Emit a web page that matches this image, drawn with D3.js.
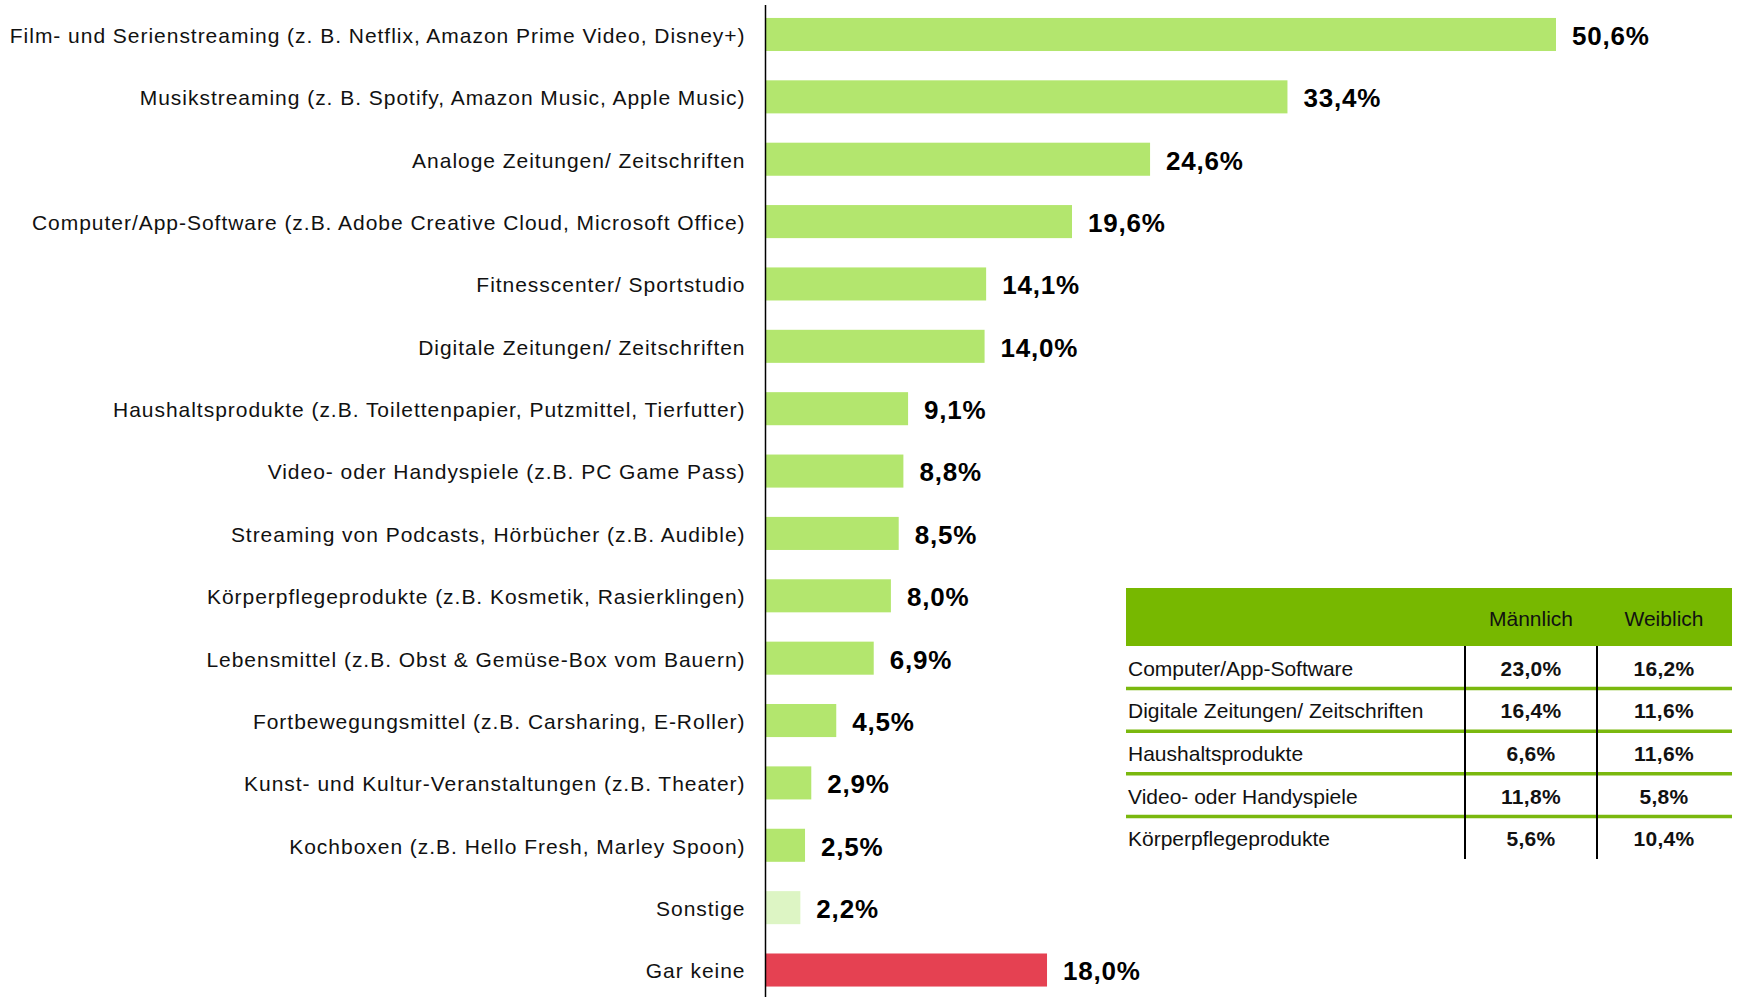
<!DOCTYPE html>
<html>
<head>
<meta charset="utf-8">
<script src="https://cdn.jsdelivr.net/npm/d3@7"></script>
<style>
  body { margin: 0; background: #fff; }
  svg { display: block; font-family: "Liberation Sans", Arial, sans-serif; }
</style>
</head>
<body>
<script>
// bar chart data
var categories = [
  "Film- und Serienstreaming (z. B. Netflix, Amazon Prime Video, Disney+)",
  "Musikstreaming (z. B. Spotify, Amazon Music, Apple Music)",
  "Analoge Zeitungen/ Zeitschriften",
  "Computer/App-Software (z.B. Adobe Creative Cloud, Microsoft Office)",
  "Fitnesscenter/ Sportstudio",
  "Digitale Zeitungen/ Zeitschriften",
  "Haushaltsprodukte (z.B. Toilettenpapier, Putzmittel, Tierfutter)",
  "Video- oder Handyspiele (z.B. PC Game Pass)",
  "Streaming von Podcasts, Hörbücher (z.B. Audible)",
  "Körperpflegeprodukte (z.B. Kosmetik, Rasierklingen)",
  "Lebensmittel (z.B. Obst & Gemüse-Box vom Bauern)",
  "Fortbewegungsmittel (z.B. Carsharing, E-Roller)",
  "Kunst- und Kultur-Veranstaltungen (z.B. Theater)",
  "Kochboxen (z.B. Hello Fresh, Marley Spoon)",
  "Sonstige",
  "Gar keine"
];
var values = [50.6, 33.4, 24.6, 19.6, 14.1, 14.0, 9.1, 8.8, 8.5, 8.0, 6.9, 4.5, 2.9, 2.5, 2.2, 18.0];

// table data
var tableRows = ["Computer/App-Software", "Digitale Zeitungen/ Zeitschriften", "Haushaltsprodukte", "Video- oder Handyspiele", "Körperpflegeprodukte"];
var tableCols = ["Männlich", "Weiblich"];
var maleVals = [23.0, 16.4, 6.6, 11.8, 5.6];
var femaleVals = [16.2, 11.6, 11.6, 5.8, 10.4];

var w = 1740, h = 997;
var fmt = function(v){ return v.toFixed(1).replace(".", ",") + "%"; };

var svg = d3.select("body").append("svg").attr("width", w).attr("height", h);

var x = d3.scaleLinear().domain([0, 50.6]).range([766, 1556]);
var y = d3.scaleBand().domain(categories).range([3.3, 1001.2]).paddingInner(0.47).paddingOuter(0.235);

var barColor = function(d, i){
  if (d === "Gar keine") return "#e54152";
  if (d === "Sonstige") return "#ddf5c4";
  return "#b3e66e";
};

// bars
svg.selectAll("rect.bar")
  .data(categories)
  .enter()
  .append("rect")
  .attr("class", "bar")
  .attr("x", x(0))
  .attr("y", function(d){ return y(d); })
  .attr("width", function(d, i){ return x(values[i]) - x(0); })
  .attr("height", y.bandwidth())
  .attr("fill", barColor);

// value labels
svg.selectAll("text.val")
  .data(categories)
  .enter()
  .append("text")
  .attr("class", "val")
  .attr("x", function(d, i){ return x(values[i]) + 16; })
  .attr("y", function(d){ return y(d) + y.bandwidth() / 2; })
  .attr("dy", "0.4em")
  .attr("font-size", 26)
  .attr("font-weight", "bold")
  .attr("letter-spacing", 0.8)
  .attr("fill", "#000")
  .text(function(d, i){ return fmt(values[i]); });

// category axis
var axis = svg.append("g")
  .attr("transform", "translate(" + (x(0) - 0.5) + ",0)")
  .call(d3.axisLeft(y).tickSize(0).tickSizeOuter(0).tickPadding(20));
axis.select(".domain").remove();
axis.selectAll("text")
  .attr("font-family", "Liberation Sans, Arial, sans-serif")
  .attr("font-size", 21)
  .attr("letter-spacing", 0.97)
  .attr("dy", "0.4em")
  .attr("fill", "#111");
svg.append("line")
  .attr("x1", x(0) - 0.5).attr("x2", x(0) - 0.5)
  .attr("y1", 5).attr("y2", h)
  .attr("stroke", "#000").attr("stroke-width", 1.5);

// table
var tX0 = 1126, tX1 = 1732, hdrTop = 588, hdrBot = 646;
var colDiv = [1465, 1597];
var colX = d3.scalePoint().domain(tableCols).range([1531, 1664]);
var rowY = d3.scaleBand().domain(tableRows).range([hdrBot, hdrBot + 42.6 * tableRows.length]);
var green = "#77b800";

var tbl = svg.append("g");
tbl.append("rect")
  .attr("x", tX0).attr("y", hdrTop)
  .attr("width", tX1 - tX0).attr("height", hdrBot - hdrTop)
  .attr("fill", green);
tbl.selectAll("text.hdr")
  .data(tableCols)
  .enter()
  .append("text")
  .attr("class", "hdr")
  .attr("x", function(d){ return colX(d); })
  .attr("y", 626)
  .attr("text-anchor", "middle")
  .attr("font-size", 21)
  .attr("fill", "#111")
  .text(function(d){ return d; });

// separators
tbl.selectAll("line.sep")
  .data(tableRows.slice(0, -1))
  .enter()
  .append("line")
  .attr("class", "sep")
  .attr("x1", tX0).attr("x2", tX1)
  .attr("y1", function(d){ return rowY(d) + rowY.bandwidth(); })
  .attr("y2", function(d){ return rowY(d) + rowY.bandwidth(); })
  .attr("stroke", "#7ab80e").attr("stroke-width", 3.5);

// column dividers
tbl.selectAll("line.div")
  .data(colDiv)
  .enter()
  .append("line")
  .attr("class", "div")
  .attr("x1", function(d){ return d; }).attr("x2", function(d){ return d; })
  .attr("y1", hdrBot).attr("y2", rowY.range()[1])
  .attr("stroke", "#000").attr("stroke-width", 2);

tbl.selectAll("text.rowlab")
  .data(tableRows)
  .enter()
  .append("text")
  .attr("class", "rowlab")
  .attr("x", 1128)
  .attr("y", function(d){ return rowY(d) + rowY.bandwidth() / 2; })
  .attr("dy", "0.4em")
  .attr("font-size", 21)
  .attr("fill", "#111")
  .text(function(d){ return d; });

[maleVals, femaleVals].forEach(function(arr, c){
  tbl.selectAll("text.v" + c)
    .data(tableRows)
    .enter()
    .append("text")
    .attr("class", "v" + c)
    .attr("x", colX(tableCols[c]))
    .attr("y", function(d){ return rowY(d) + rowY.bandwidth() / 2; })
    .attr("dy", "0.4em")
    .attr("text-anchor", "middle")
    .attr("font-size", 21)
    .attr("font-weight", "bold")
    .attr("letter-spacing", 0.3)
    .attr("fill", "#111")
    .text(function(d, i){ return fmt(arr[i]); });
});
</script>
</body>
</html>
